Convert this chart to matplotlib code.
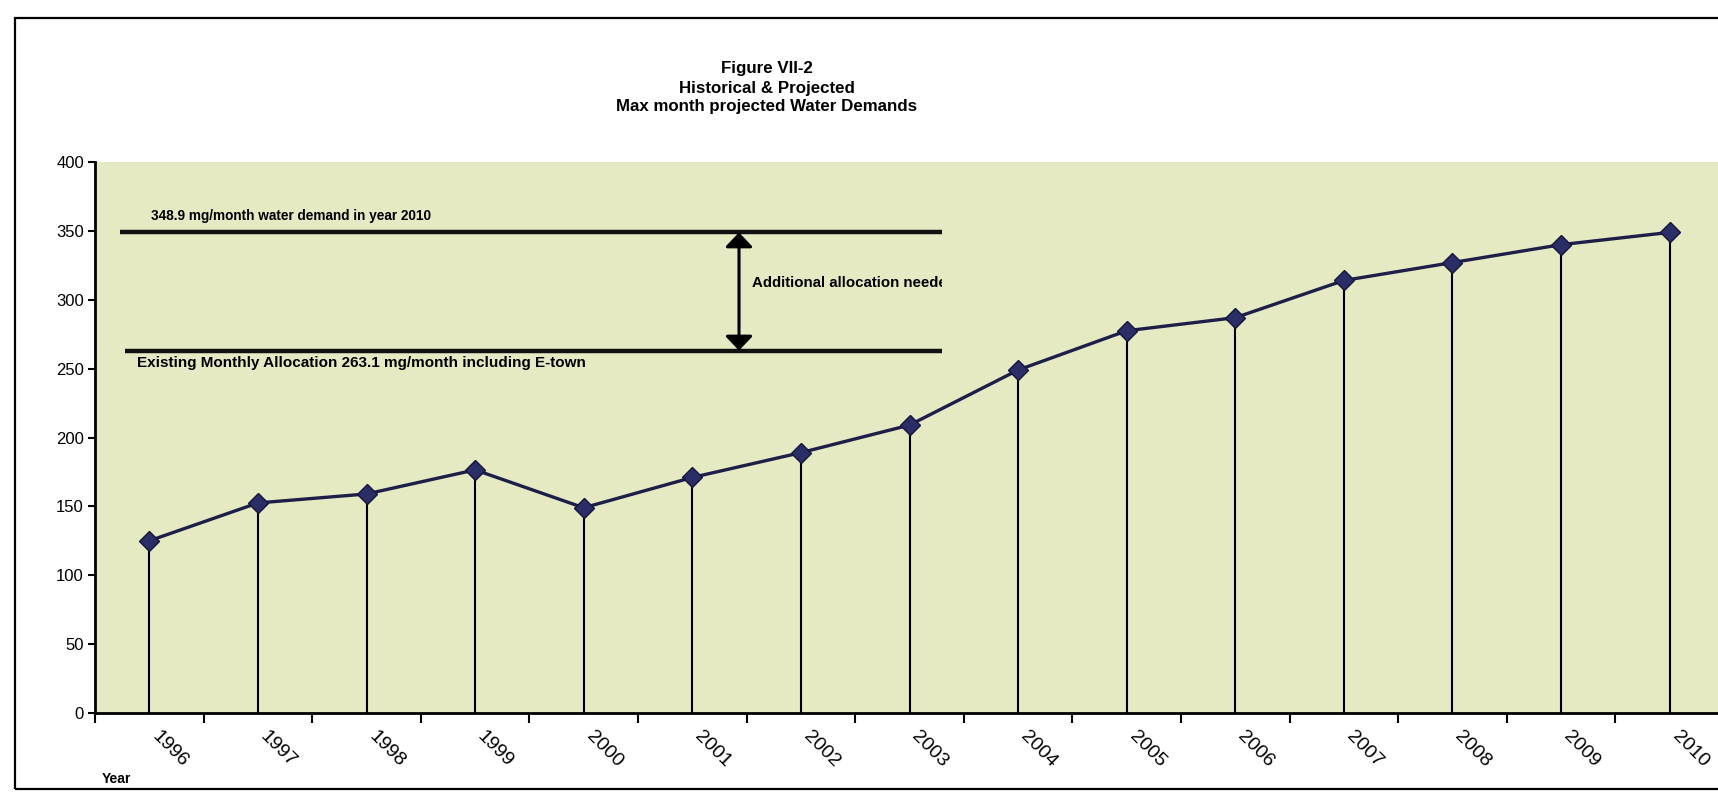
import matplotlib
matplotlib.use("Agg")
import matplotlib.pyplot as plt
import matplotlib.transforms as mtransforms
from matplotlib.patches import Rectangle

# ---- data -------------------------------------------------------------
years = ["1996", "1997", "1998", "1999", "2000", "2001", "2002", "2003",
         "2004", "2005", "2006", "2007", "2008", "2009", "2010"]
demand = [125, 152.5, 159, 176.5, 149, 171, 189, 209,
          249, 277.5, 287, 314, 327, 340, 348.9]
demand_2010 = 348.9          # mg/month, projected max-month demand in 2010
allocation = 263.1           # mg/month, existing monthly allocation
y_ticks = [0, 50, 100, 150, 200, 250, 300, 350, 400]

title_lines = ["Figure VII-2", "Historical & Projected",
               "Max month projected Water Demands"]

# ---- styling ----------------------------------------------------------
W, H = 1718, 793
narrow = ["Liberation Sans Narrow", "Liberation Sans", "DejaVu Sans"]
sans = ["Liberation Sans", "DejaVu Sans"]
plt.rcParams["font.family"] = sans

bg_fill = "#e6eac3"
marker_col = "#2b2d66"
line_col = "#1e1f48"

fig = plt.figure(figsize=(W / 100, H / 100), dpi=100)
fig.patch.set_facecolor("white")

# chart-area border
fig.add_artist(Rectangle((15 / W, 4 / H), 2.0, (789 - 18) / H,
                         transform=fig.transFigure, fill=False,
                         lw=1.6, edgecolor="black"))

# titles
for txt, ypx in zip(title_lines, [69, 88, 106]):
    fig.text(767 / W, 1 - ypx / H, txt, ha="center", va="center",
             fontsize=12.2, fontweight="bold", family=narrow)

# plot area (right edge runs slightly past the page)
left_px, top_px, bottom_px = 95, 162, 713
cat_w = 108.6
ax = fig.add_axes([left_px / W, 1 - bottom_px / H,
                   15 * cat_w / W, (bottom_px - top_px) / H])
ax.set_facecolor(bg_fill)
ax.set_xlim(-0.5, len(years) - 0.5)
ax.set_ylim(0, 400)

for s in ["top", "right"]:
    ax.spines[s].set_visible(False)
for s in ["left", "bottom"]:
    ax.spines[s].set_linewidth(2)

ax.set_yticks(y_ticks)
ax.tick_params(axis="y", direction="out", length=5, width=1.5,
               labelsize=12, pad=3)

# category boundary ticks on the x axis, labels drawn separately
x = list(range(len(years)))
ax.set_xticks([i - 0.5 for i in range(len(years) + 1)])
ax.set_xticklabels([])
ax.tick_params(axis="x", direction="out", length=7, width=1.5)

lab_tr = ax.get_xaxis_transform() + mtransforms.ScaledTranslation(
    11 / 100, -15 / 100, fig.dpi_scale_trans)
for xi, yr in zip(x, years):
    ax.text(xi, 0, yr, transform=lab_tr, rotation=-45,
            rotation_mode="anchor", ha="left", va="top", fontsize=14,
            clip_on=False)

fig.text(102 / W, 1 - 779 / H, "Year", ha="left", va="center",
         fontsize=10, fontweight="bold")

# drop lines, series line and markers
ax.vlines(x, 0, demand, colors="black", lw=1.5, zorder=3)
ax.plot(x, demand, color=line_col, lw=2.4, zorder=4)
ax.plot(x, demand, ls="none", marker="D", ms=10, mfc=marker_col,
        mec="#15163a", mew=1.0, zorder=5)

# demand vs allocation annotation
x_end = 7.3
ax.plot([-0.27, x_end], [demand_2010, demand_2010], color="#111111",
        lw=3.2, solid_capstyle="butt", zorder=2)
ax.plot([-0.22, x_end], [allocation, allocation], color="#111111",
        lw=3.2, solid_capstyle="butt", zorder=2)

ax.text(0.02, demand_2010 + 12, "348.9 mg/month water demand in year 2010",
        ha="left", va="center", fontsize=9.8, fontweight="bold")
ax.text(-0.11, allocation - 9,
        "Existing Monthly Allocation 263.1 mg/month including E-town",
        ha="left", va="center", fontsize=11, fontweight="bold")

ax.annotate("", xy=(5.43, demand_2010), xytext=(5.43, allocation),
            arrowprops=dict(arrowstyle="<|-|>,head_length=0.4,head_width=0.38",
                            lw=2.2, color="black", mutation_scale=22,
                            shrinkA=0, shrinkB=0), zorder=3)

t = ax.text(5.55, 312, "Additional allocation needed", ha="left",
            va="center", fontsize=10.8, fontweight="bold")
t.set_clip_box(mtransforms.TransformedBbox(
    mtransforms.Bbox([[5.0, 0], [x_end, 400]]), ax.transData))
t.set_clip_on(True)

fig.savefig("out.png", dpi=100)
